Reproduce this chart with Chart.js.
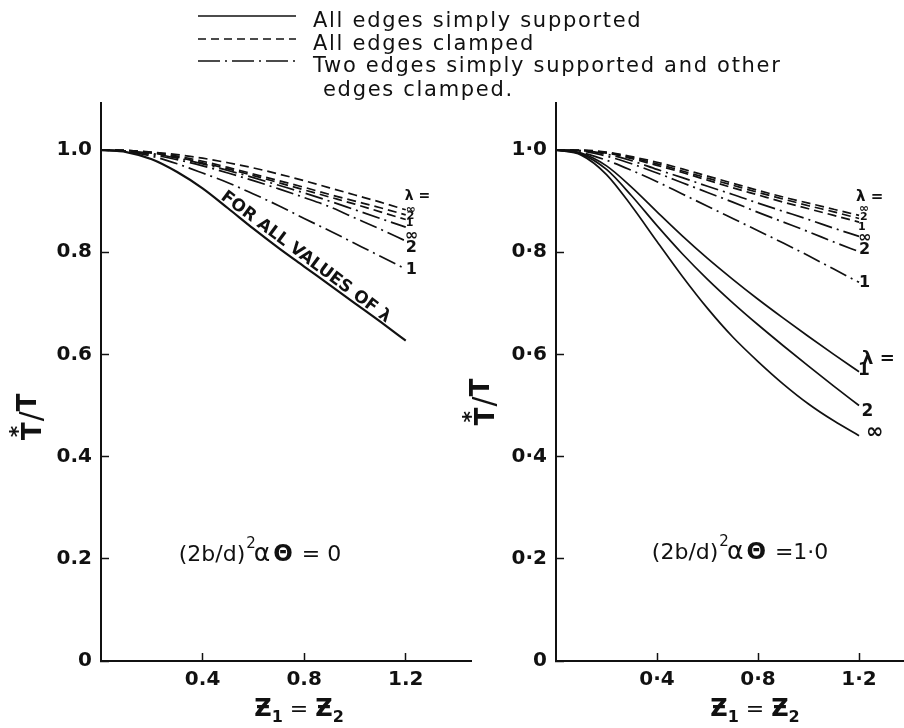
<!DOCTYPE html>
<html>
<head>
<meta charset="utf-8">
<script src="https://cdn.jsdelivr.net/npm/chart.js@4/dist/chart.umd.min.js"></script>
<style>
  html,body{margin:0;padding:0;background:#fff;}
  #wrap{position:relative;width:904px;height:728px;overflow:hidden;background:#fff;}
  canvas{position:absolute;top:0;}
  #legend{position:absolute;left:0;top:0;}
</style>
</head>
<body>
<div id="wrap">
  <canvas id="left" width="480" height="728" style="left:0px"></canvas>
  <canvas id="right" width="444" height="728" style="left:460px"></canvas>
  <svg id="legend" width="904" height="110" xmlns="http://www.w3.org/2000/svg"></svg>
</div>
<script>
// ---------------- data ----------------
const zValues = [0, 0.1, 0.2, 0.3, 0.4, 0.5, 0.6, 0.7, 0.8, 0.9, 1.0, 1.1, 1.2];

// (2b/d)^2 α Θ = 0
const ssAll0   = [1.000, 0.996, 0.982, 0.957, 0.925, 0.886, 0.846, 0.808, 0.772, 0.736, 0.700, 0.664, 0.627];
const clInf0   = [1.000, 0.999, 0.996, 0.991, 0.984, 0.975, 0.965, 0.953, 0.940, 0.926, 0.912, 0.898, 0.883];
const clTwo0   = [1.000, 0.999, 0.995, 0.988, 0.978, 0.966, 0.953, 0.940, 0.927, 0.913, 0.900, 0.887, 0.873];
const clOne0   = [1.000, 0.999, 0.994, 0.986, 0.975, 0.963, 0.950, 0.936, 0.922, 0.908, 0.894, 0.879, 0.864];
const mixInf0  = [1.000, 0.998, 0.993, 0.984, 0.973, 0.960, 0.946, 0.931, 0.916, 0.900, 0.883, 0.866, 0.849];
const mixTwo0  = [1.000, 0.998, 0.991, 0.981, 0.969, 0.955, 0.940, 0.924, 0.907, 0.889, 0.867, 0.845, 0.822];
const mixOne0  = [1.000, 0.997, 0.988, 0.973, 0.955, 0.936, 0.914, 0.891, 0.866, 0.842, 0.817, 0.792, 0.767];

// (2b/d)^2 α Θ = 1.0
const ssOne1   = [1.000, 0.994, 0.969, 0.927, 0.879, 0.832, 0.788, 0.747, 0.708, 0.671, 0.635, 0.600, 0.566];
const ssTwo1   = [1.000, 0.992, 0.962, 0.910, 0.852, 0.797, 0.747, 0.701, 0.658, 0.617, 0.577, 0.538, 0.500];
const ssInf1   = [1.000, 0.990, 0.952, 0.890, 0.821, 0.753, 0.690, 0.634, 0.586, 0.542, 0.503, 0.470, 0.441];
const clInf1   = [1.000, 1.000, 0.996, 0.987, 0.976, 0.963, 0.949, 0.935, 0.921, 0.908, 0.896, 0.884, 0.872];
const clTwo1   = [1.000, 0.999, 0.995, 0.985, 0.973, 0.959, 0.945, 0.931, 0.917, 0.904, 0.891, 0.879, 0.866];
const clOne1   = [1.000, 0.999, 0.994, 0.983, 0.970, 0.956, 0.941, 0.926, 0.912, 0.898, 0.885, 0.872, 0.859];
const mixInf1  = [1.000, 0.999, 0.992, 0.979, 0.962, 0.946, 0.929, 0.913, 0.896, 0.880, 0.864, 0.847, 0.831];
const mixTwo1  = [1.000, 0.998, 0.988, 0.973, 0.955, 0.936, 0.917, 0.898, 0.878, 0.859, 0.840, 0.820, 0.801];
const mixOne1  = [1.000, 0.995, 0.980, 0.960, 0.938, 0.914, 0.890, 0.866, 0.842, 0.818, 0.793, 0.767, 0.741];

// ticks
const yTickValues = [0, 0.2, 0.4, 0.6, 0.8, 1.0];
const yTickLabelsLeft  = ['0', '0.2', '0.4', '0.6', '0.8', '1.0'];
const yTickLabelsRight = ['0', '0\u00b72', '0\u00b74', '0\u00b76', '0\u00b78', '1\u00b70'];
const xTickValues = [0.4, 0.8, 1.2];
const xTickLabelsLeft  = ['0.4', '0.8', '1.2'];
const xTickLabelsRight = ['0\u00b74', '0\u00b78', '1\u00b72'];

// legend
const legendStyles = ['solid', 'dashed', 'dashdot'];
const legendTexts  = ['All edges simply supported', 'All edges clamped', 'Two edges simply supported and other', 'edges clamped.'];

// curve end labels  [text, z, value, size]
const lambdaLabels0 = [
  ['\u03bb =', 1.196, 0.910, 14],
  ['\u221e', 1.200, 0.883, 12],
  ['2', 1.204, 0.871, 11],
  ['1', 1.200, 0.857, 11],
  ['\u221e', 1.196, 0.832, 16],
  ['2', 1.200, 0.808, 16],
  ['1', 1.200, 0.765, 16]
];
const lambdaLabels1 = [
  ['\u03bb =', 1.188, 0.908, 15],
  ['\u221e', 1.200, 0.884, 12],
  ['2', 1.204, 0.868, 11],
  ['1', 1.196, 0.850, 11],
  ['\u221e', 1.196, 0.828, 16],
  ['2', 1.200, 0.804, 16],
  ['1', 1.200, 0.740, 16],
  ['\u03bb =', 1.212, 0.590, 18],
  ['1', 1.196, 0.569, 17],
  ['2', 1.210, 0.488, 17],
  ['\u221e', 1.228, 0.447, 21]
];

// ---------------- styles ----------------
const INK = '#111';
const FAMILY = '"DejaVu Sans", sans-serif';
const dashFor = { solid: [], dashed: [9, 5], dashdot: [18, 5, 2, 5] };

// ---------------- legend (svg) ----------------
(function buildLegend() {
  const svg = document.getElementById('legend');
  const ns = 'http://www.w3.org/2000/svg';
  const rowsY = [16, 39, 61];
  const baseY = [27, 50, 72, 96];
  legendStyles.forEach((st, i) => {
    const ln = document.createElementNS(ns, 'line');
    ln.setAttribute('x1', 198); ln.setAttribute('x2', 296);
    ln.setAttribute('y1', rowsY[i]); ln.setAttribute('y2', rowsY[i]);
    ln.setAttribute('stroke', INK); ln.setAttribute('stroke-width', '1.6');
    if (dashFor[st].length) ln.setAttribute('stroke-dasharray', st === 'dashed' ? '8 5' : '22 5 2 5');
    svg.appendChild(ln);
  });
  legendTexts.forEach((t, i) => {
    const tx = document.createElementNS(ns, 'text');
    tx.setAttribute('x', i === 3 ? 323 : 313);
    tx.setAttribute('y', baseY[i]);
    tx.setAttribute('font-family', 'DejaVu Sans, sans-serif');
    tx.setAttribute('font-size', '21');
    tx.setAttribute('letter-spacing', '1.7');
    tx.setAttribute('fill', INK);
    tx.textContent = t;
    svg.appendChild(tx);
  });
})();

// ---------------- helpers ----------------
function drawRich(ctx, segs, cx, baseline) {
  const widths = segs.map(s => {
    ctx.font = (s.b ? 'bold ' : '') + s.s + 'px ' + FAMILY;
    return ctx.measureText(s.t).width;
  });
  let total = 0;
  segs.forEach((s, i) => { total += (s.dx || 0) + (s.noAdv ? 0 : widths[i]); });
  let x = cx - total / 2;
  ctx.textAlign = 'left';
  ctx.textBaseline = 'alphabetic';
  segs.forEach((s, i) => {
    ctx.font = (s.b ? 'bold ' : '') + s.s + 'px ' + FAMILY;
    x += (s.dx || 0);
    ctx.fillText(s.t, x, baseline + (s.dy || 0));
    if (!s.noAdv) x += widths[i];
  });
}

function interp(xs, ys, x) {
  for (let i = 0; i < xs.length - 1; i++) {
    if (x >= xs[i] && x <= xs[i + 1]) {
      const f = (x - xs[i]) / (xs[i + 1] - xs[i]);
      return ys[i] + f * (ys[i + 1] - ys[i]);
    }
  }
  return ys[ys.length - 1];
}

const annotPlugin = {
  id: 'annot',
  afterDraw(chart, args, opts) {
    const ctx = chart.ctx;
    const xs = chart.scales.x, ys = chart.scales.y;
    const area = chart.chartArea;
    ctx.save();
    ctx.fillStyle = INK;
    // lambda labels
    (opts.labels || []).forEach(([t, z, v, size]) => {
      ctx.font = 'bold ' + size + 'px ' + FAMILY;
      ctx.textAlign = 'left';
      ctx.textBaseline = 'middle';
      ctx.fillText(t, xs.getPixelForValue(z), ys.getPixelForValue(v));
    });
    // formula
    if (opts.formula) {
      const f = opts.formula;
      const cx = xs.getPixelForValue(f.z);
      const cy = ys.getPixelForValue(f.v);
      drawRich(ctx, [
        { t: '(2b/d)', s: 22 },
        { t: '2', s: 15, dy: -13, dx: 1 },
        { t: '\u03b1', s: 25, dx: -2 },
        { t: '\u0398', s: 23, b: true, dx: 3 },
        { t: ' ' + f.rhs, s: 22, dx: 2 }
      ], cx, cy + 8);
    }
    // y axis title  T*/T  (rotated, reads bottom to top)
    if (opts.yTitle) {
      const px = area.left + opts.yTitle.dx;
      const py = ys.getPixelForValue(opts.yTitle.v);
      ctx.save();
      ctx.translate(px, py);
      ctx.rotate(-Math.PI / 2);
      drawRich(ctx, [
        { t: 'T', s: 26, b: true },
        { t: '*', s: 22, b: true, dy: -16, dx: -15, noAdv: true },
        { t: '/', s: 30, dx: 16 },
        { t: 'T', s: 26, b: true, dy: -5 }
      ], 0, 9);
      ctx.restore();
    }
    // x axis title  Z1 = Z2
    if (opts.xTitle) {
      drawRich(ctx, [
        { t: '\u01b5', s: 24, b: true },
        { t: '1', s: 16, b: true, dy: 6 },
        { t: ' = ', s: 22 },
        { t: '\u01b5', s: 24, b: true },
        { t: '2', s: 16, b: true, dy: 6 }
      ], xs.getPixelForValue(opts.xTitle.z), area.bottom + 55);
    }
    // rotated text along the simply supported line
    if (opts.along) {
      const a = opts.along;
      const p1 = { x: xs.getPixelForValue(zValues[4]), y: ys.getPixelForValue(a.values[4]) };
      const p2 = { x: xs.getPixelForValue(zValues[12]), y: ys.getPixelForValue(a.values[12]) };
      const ang = Math.atan2(p2.y - p1.y, p2.x - p1.x);
      const ax = xs.getPixelForValue(a.z);
      const ay = ys.getPixelForValue(interp(zValues, a.values, a.z));
      ctx.save();
      ctx.translate(ax, ay);
      ctx.rotate(ang);
      ctx.font = 'bold 17px ' + FAMILY;
      ctx.textAlign = 'center';
      ctx.textBaseline = 'alphabetic';
      ctx.fillText(a.text, 2, -4);
      ctx.restore();
    }
    ctx.restore();
  }
};

function makeSeries(values, style, width) {
  return {
    data: zValues.map((z, i) => ({ x: z, y: values[i] })),
    borderColor: INK,
    borderWidth: width || 1.7,
    borderDash: dashFor[style],
    borderCapStyle: 'butt',
    pointRadius: 0,
    fill: false,
    cubicInterpolationMode: 'monotone'
  };
}

function buildChart(id, datasets, cfg) {
  const tickFont = { family: FAMILY, size: 20, weight: 'bold' };
  return new Chart(document.getElementById(id), {
    type: 'line',
    data: { datasets },
    options: {
      responsive: false,
      animation: false,
      events: [],
      layout: { padding: { left: 0, right: cfg.padRight, top: 103, bottom: 0 } },
      plugins: { legend: { display: false }, tooltip: { enabled: false }, annot: cfg.annot },
      scales: {
        x: {
          type: 'linear', min: 0, max: cfg.xMax,
          afterFit: s => { s.height = 67; },
          afterBuildTicks: s => { s.ticks = xTickValues.map(v => ({ value: v })); },
          ticks: { callback: (v, i) => cfg.xLabels[i], font: tickFont, color: INK, padding: 15, maxRotation: 0, autoSkip: false },
          grid: { drawOnChartArea: false, drawTicks: true, tickLength: -8, tickWidth: 1.5, tickColor: INK },
          border: { color: INK, width: 2 }
        },
        y: {
          type: 'linear', min: 0, max: 1.092,
          afterFit: s => { s.width = cfg.yWidth; },
          afterBuildTicks: s => { s.ticks = yTickValues.map(v => ({ value: v })); },
          ticks: { callback: (v, i) => cfg.yLabels[i], font: tickFont, color: INK, padding: 17, autoSkip: false },
          grid: { drawOnChartArea: false, drawTicks: true, tickLength: -8, tickWidth: 1.5, tickColor: INK },
          border: { color: INK, width: 2 }
        }
      }
    },
    plugins: [annotPlugin]
  });
}

// ---------------- left chart ----------------
buildChart('left', [
  makeSeries(ssAll0, 'solid', 2.2),
  makeSeries(clInf0, 'dashed'),
  makeSeries(clTwo0, 'dashed'),
  makeSeries(clOne0, 'dashed'),
  makeSeries(mixInf0, 'dashdot'),
  makeSeries(mixTwo0, 'dashdot'),
  makeSeries(mixOne0, 'dashdot')
], {
  xMax: 1.457, padRight: 9, yWidth: 101,
  xLabels: xTickLabelsLeft, yLabels: yTickLabelsLeft,
  annot: {
    labels: lambdaLabels0,
    formula: { z: 0.626, v: 0.211, rhs: '= 0' },
    yTitle: { dx: -69, v: 0.478 },
    xTitle: { z: 0.78 },
    along: { values: ssAll0, z: 0.78, text: 'FOR ALL VALUES OF \u03bb' }
  }
});

// ---------------- right chart ----------------
buildChart('right', [
  makeSeries(ssOne1, 'solid'),
  makeSeries(ssTwo1, 'solid'),
  makeSeries(ssInf1, 'solid'),
  makeSeries(clInf1, 'dashed'),
  makeSeries(clTwo1, 'dashed'),
  makeSeries(clOne1, 'dashed'),
  makeSeries(mixInf1, 'dashdot'),
  makeSeries(mixTwo1, 'dashdot'),
  makeSeries(mixOne1, 'dashdot')
], {
  xMax: 1.378, padRight: 0, yWidth: 96,
  xLabels: xTickLabelsRight, yLabels: yTickLabelsRight,
  annot: {
    labels: lambdaLabels1,
    formula: { z: 0.729, v: 0.215, rhs: '=1\u00b70' },
    yTitle: { dx: -71, v: 0.507 },
    xTitle: { z: 0.788 }
  }
});
</script>
</body>
</html>
